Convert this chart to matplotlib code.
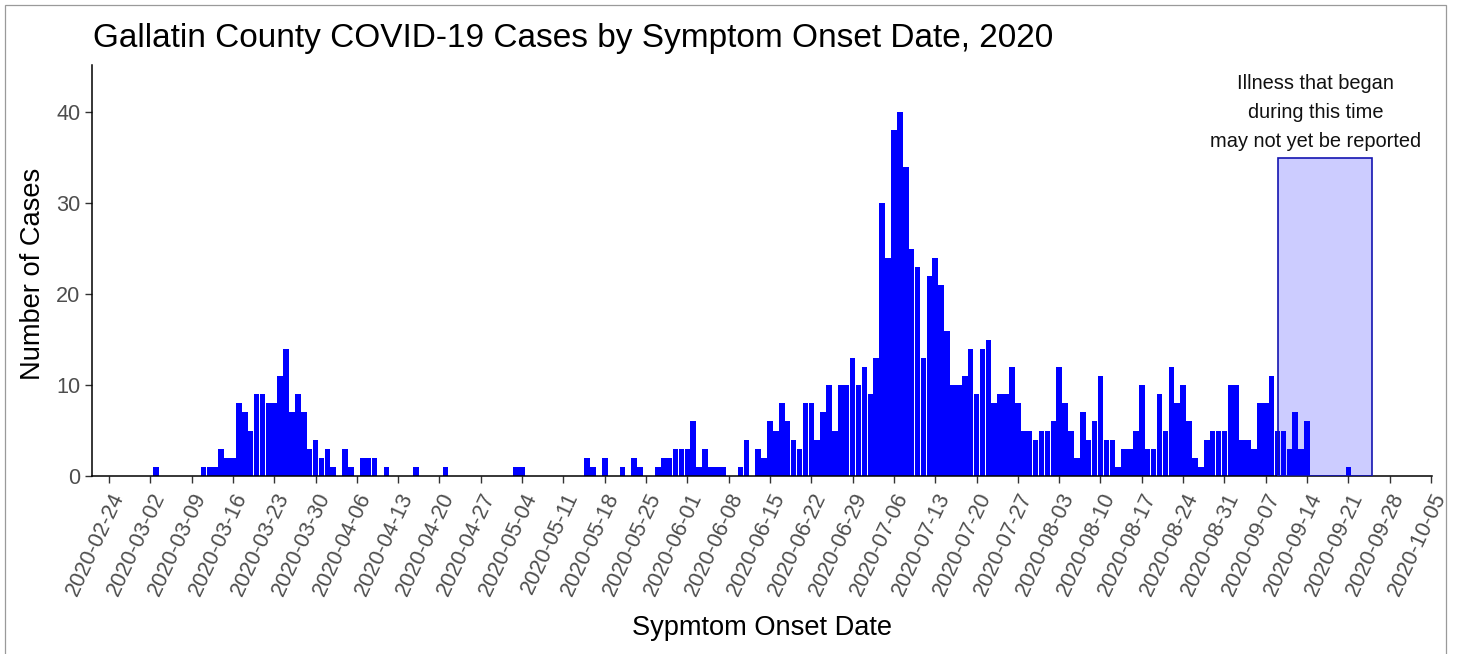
import matplotlib
matplotlib.use("Agg")
import matplotlib.pyplot as plt
import matplotlib.dates as mdates
from matplotlib.patches import Rectangle
import pandas as pd

plt.rcParams['font.family'] = ['Liberation Sans', 'DejaVu Sans']

# ---------------- data ----------------
onset_dates = [
    "2020-03-03",
    "2020-03-11", "2020-03-12", "2020-03-13", "2020-03-14", "2020-03-15", "2020-03-16",
    "2020-03-17", "2020-03-18", "2020-03-19", "2020-03-20", "2020-03-21", "2020-03-22",
    "2020-03-23", "2020-03-24", "2020-03-25", "2020-03-26", "2020-03-27", "2020-03-28",
    "2020-03-29", "2020-03-30", "2020-03-31",
    "2020-04-01", "2020-04-02", "2020-04-04", "2020-04-05", "2020-04-07", "2020-04-08",
    "2020-04-09", "2020-04-11", "2020-04-16", "2020-04-21",
    "2020-05-03", "2020-05-04",
    "2020-05-15", "2020-05-16", "2020-05-18", "2020-05-21", "2020-05-23", "2020-05-24",
    "2020-05-27", "2020-05-28", "2020-05-29", "2020-05-30", "2020-05-31",
    "2020-06-01", "2020-06-02", "2020-06-03", "2020-06-04", "2020-06-05", "2020-06-06",
    "2020-06-07", "2020-06-10", "2020-06-11", "2020-06-13", "2020-06-14", "2020-06-15",
    "2020-06-16", "2020-06-17", "2020-06-18", "2020-06-19", "2020-06-20", "2020-06-21",
    "2020-06-22", "2020-06-23", "2020-06-24", "2020-06-25", "2020-06-26", "2020-06-27",
    "2020-06-28", "2020-06-29", "2020-06-30",
    "2020-07-01", "2020-07-02", "2020-07-03", "2020-07-04", "2020-07-05", "2020-07-06",
    "2020-07-07", "2020-07-08", "2020-07-09", "2020-07-10", "2020-07-11", "2020-07-12",
    "2020-07-13", "2020-07-14", "2020-07-15", "2020-07-16", "2020-07-17", "2020-07-18",
    "2020-07-19", "2020-07-20", "2020-07-21", "2020-07-22", "2020-07-23", "2020-07-24",
    "2020-07-25", "2020-07-26", "2020-07-27", "2020-07-28", "2020-07-29", "2020-07-30",
    "2020-07-31",
    "2020-08-01", "2020-08-02", "2020-08-03", "2020-08-04", "2020-08-05", "2020-08-06",
    "2020-08-07", "2020-08-08", "2020-08-09", "2020-08-10", "2020-08-11", "2020-08-12",
    "2020-08-13", "2020-08-14", "2020-08-15", "2020-08-16", "2020-08-17", "2020-08-18",
    "2020-08-19", "2020-08-20", "2020-08-21", "2020-08-22", "2020-08-23", "2020-08-24",
    "2020-08-25", "2020-08-26", "2020-08-27", "2020-08-28", "2020-08-29", "2020-08-30",
    "2020-08-31",
    "2020-09-01", "2020-09-02", "2020-09-03", "2020-09-04", "2020-09-05", "2020-09-06",
    "2020-09-07", "2020-09-08", "2020-09-09", "2020-09-10", "2020-09-11", "2020-09-12",
    "2020-09-13", "2020-09-14", "2020-09-21",
]
case_counts = [
    1,
    1, 1, 1, 3, 2, 2,
    8, 7, 5, 9, 9, 8,
    8, 11, 14, 7, 9, 7,
    3, 4, 2,
    3, 1, 3, 1, 2, 2,
    2, 1, 1, 1,
    1, 1,
    2, 1, 2, 1, 2, 1,
    1, 2, 2, 3, 3,
    3, 6, 1, 3, 1, 1,
    1, 1, 4, 3, 2, 6,
    5, 8, 6, 4, 3, 8,
    8, 4, 7, 10, 5, 10,
    10, 13, 10,
    12, 9, 13, 30, 24, 38,
    40, 34, 25, 23, 13, 22,
    24, 21, 16, 10, 10, 11,
    14, 9, 14, 15, 8, 9,
    9, 12, 8, 5, 5, 4,
    5,
    5, 6, 12, 8, 5, 2,
    7, 4, 6, 11, 4, 4,
    1, 3, 3, 5, 10, 3,
    3, 9, 5, 12, 8, 10,
    6, 2, 1, 4, 5, 5,
    5,
    10, 10, 4, 4, 3, 8,
    8, 11, 5, 5, 3, 7,
    3, 6, 1,
]

tick_labels = [
    "2020-02-24", "2020-03-02", "2020-03-09", "2020-03-16", "2020-03-23", "2020-03-30",
    "2020-04-06", "2020-04-13", "2020-04-20", "2020-04-27", "2020-05-04", "2020-05-11",
    "2020-05-18", "2020-05-25", "2020-06-01", "2020-06-08", "2020-06-15", "2020-06-22",
    "2020-06-29", "2020-07-06", "2020-07-13", "2020-07-20", "2020-07-27", "2020-08-03",
    "2020-08-10", "2020-08-17", "2020-08-24", "2020-08-31", "2020-09-07", "2020-09-14",
    "2020-09-21", "2020-09-28", "2020-10-05",
]
y_ticks = [0, 10, 20, 30, 40]

shade_start = "2020-09-09"
shade_end = "2020-09-25"
shade_top = 35
note_text = "Illness that began\nduring this time\nmay not yet be reported"

title_text = "Gallatin County COVID-19 Cases by Symptom Onset Date, 2020"
x_title = "Sypmtom Onset Date"
y_title = "Number of Cases"

# ---------------- figure ----------------
W, H = 1460, 654
fig = plt.figure(figsize=(W / 100, H / 100), dpi=100)
ax = fig.add_axes([92 / W, 1 - 476 / H, (1432 - 92) / W, (476 - 65) / H])

xd = mdates.date2num(pd.to_datetime(onset_dates))
ax.bar(xd, case_counts, width=0.94, color="#0000FF", linewidth=0,
       antialiased=False, zorder=2)

s0 = mdates.date2num(pd.Timestamp(shade_start))
s1 = mdates.date2num(pd.Timestamp(shade_end))
ax.add_patch(Rectangle((s0, 0), s1 - s0, shade_top, facecolor=(0, 0, 1, 0.2),
                       edgecolor="#1414B0", linewidth=1.2, zorder=3))

note_x = s0 + 6.5
ax.text(note_x, 40.0, note_text, ha="center", va="center", fontsize=14.4,
        linespacing=1.66, color="#111111")

x_left = mdates.date2num(pd.Timestamp("2020-02-24")) - 2.88
x_right = mdates.date2num(pd.Timestamp("2020-10-05")) + 0.17
ax.set_xlim(x_left, x_right)
ax.set_ylim(0, 45.2)

tick_pos = mdates.date2num(pd.to_datetime(tick_labels))
ax.set_xticks(tick_pos)
ax.set_xticklabels(tick_labels, rotation=65, ha="right", va="top",
                   rotation_mode="anchor")
ax.set_yticks(y_ticks)
ax.set_yticklabels([str(v) for v in y_ticks])

for side in ("top", "right"):
    ax.spines[side].set_visible(False)
for side in ("left", "bottom"):
    ax.spines[side].set_color("black")
    ax.spines[side].set_linewidth(1.1)

ax.tick_params(axis="both", direction="out", length=5, width=1.0,
               color="#333333", labelcolor="#4D4D4D", labelsize=15.6, pad=3.5)
ax.tick_params(axis="x", pad=4.5)

fig.text(93 / W, 1 - 47 / H, title_text, ha="left", va="baseline",
         fontsize=24, color="black")
fig.text(762 / W, 1 - 628 / H, x_title, ha="center", va="center",
         fontsize=19.6, color="black")
fig.text(33 / W, 1 - 274 / H, y_title, ha="center", va="center",
         rotation=90, fontsize=19.6, color="black")

fig.add_artist(Rectangle((5 / W, -0.02), (1446 - 5) / W, (H - 5) / H + 0.02,
                         transform=fig.transFigure, fill=False,
                         edgecolor="#9A9A9A", linewidth=0.9))

fig.savefig("out.png", dpi=100)
